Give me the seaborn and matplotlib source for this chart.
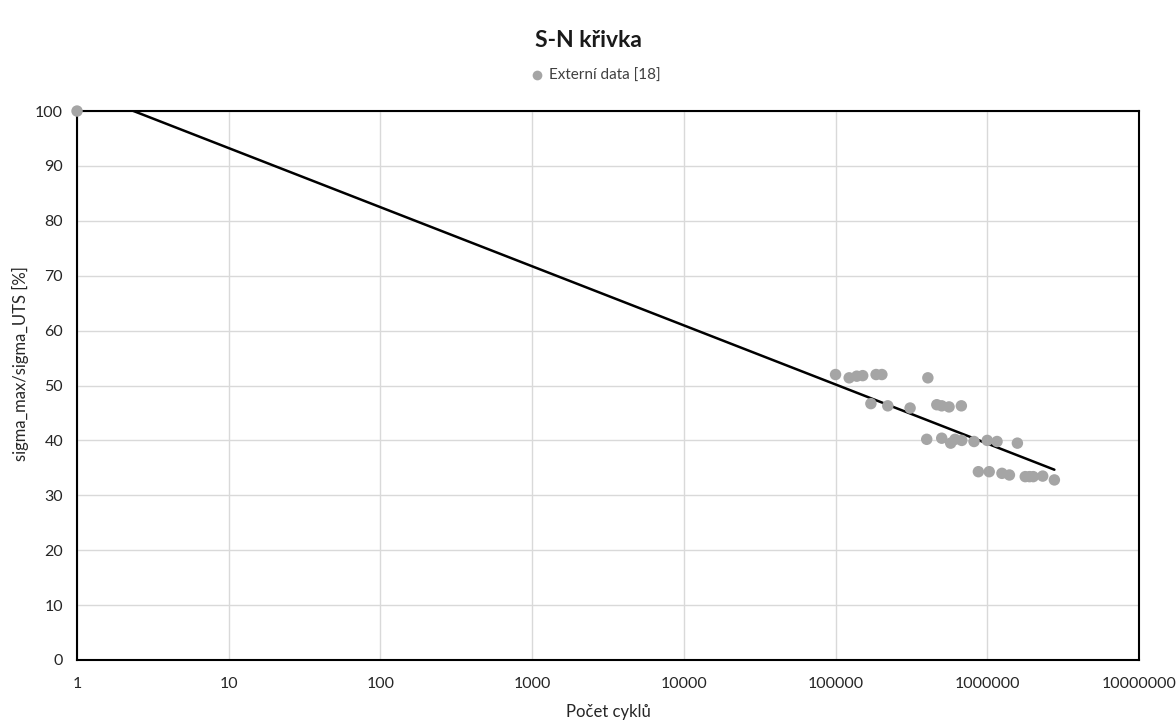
import numpy as np
import pandas as pd
import matplotlib
matplotlib.use("Agg")
import matplotlib.pyplot as plt
import seaborn as sns
from matplotlib.ticker import FixedLocator, FixedFormatter

# Fatigue test results: number of cycles to failure and relative stress [%]
cycles = [1,
          1.00e5, 1.23e5, 1.38e5, 1.51e5, 1.85e5, 2.02e5, 4.06e5,
          1.71e5, 2.21e5, 3.10e5, 4.65e5, 5.01e5, 5.60e5, 6.75e5,
          3.99e5, 5.01e5, 5.74e5, 6.13e5, 6.79e5, 8.18e5, 1.00e6, 1.16e6, 1.58e6,
          8.74e5, 1.03e6, 1.25e6, 1.40e6, 1.78e6, 1.90e6, 2.01e6, 2.32e6, 2.77e6]
stress = [100,
          52.0, 51.4, 51.7, 51.8, 52.0, 52.0, 51.4,
          46.7, 46.3, 45.9, 46.5, 46.3, 46.1, 46.3,
          40.2, 40.4, 39.5, 40.2, 40.0, 39.8, 40.0, 39.8, 39.5,
          34.3, 34.3, 34.0, 33.7, 33.4, 33.4, 33.4, 33.5, 32.8]

series_label = "Externí data [18]"
x_ticks = [1, 10, 100, 1000, 10000, 100000, 1000000, 10000000]
y_ticks = list(range(0, 101, 10))

df = pd.DataFrame({"cycles": cycles, "stress": stress, "series": series_label})

# Logarithmic trend line y = a*ln(x) + b fitted to the data
a, b = np.polyfit(np.log(df["cycles"]), df["stress"], 1)
trend_x = np.logspace(0, np.log10(max(cycles)), 200)
trend = pd.DataFrame({"cycles": trend_x, "stress": a * np.log(trend_x) + b})

sns.set_theme(style="white")
plt.rcParams["font.family"] = ["Lato", "DejaVu Sans"]

fig = plt.figure(figsize=(11.76, 7.22), dpi=100)
ax = fig.add_axes([0.0655, 0.0859, 0.903, 0.7603])

sns.lineplot(data=trend, x="cycles", y="stress", color="black", linewidth=1.8,
             ax=ax, legend=False, zorder=3)
sns.scatterplot(data=df, x="cycles", y="stress", hue="series",
                palette=["#a5a5a5"], s=68, edgecolor="none", ax=ax, zorder=4,
                clip_on=False)

ax.set_xscale("log")
ax.set_xlim(1, 1e7)
ax.set_ylim(0, 100)
ax.xaxis.set_major_locator(FixedLocator(x_ticks))
ax.xaxis.set_major_formatter(FixedFormatter([str(t) for t in x_ticks]))
ax.xaxis.set_minor_locator(FixedLocator([]))
ax.set_yticks(y_ticks)

ax.grid(True, color="#d9d9d9", linewidth=1.0)
ax.set_axisbelow(True)
for sp in ax.spines.values():
    sp.set_visible(True)
    sp.set_color("black")
    sp.set_linewidth(1.5)

ax.tick_params(axis="x", labelsize=11.5, colors="#262626", length=0, pad=12)
ax.tick_params(axis="y", labelsize=11.5, colors="#262626", length=0, pad=10)
ax.set_xlabel("Počet cyklů", fontsize=12, color="#262626")
ax.set_ylabel("sigma_max/sigma_UTS [%]", fontsize=12, color="#262626")
ax.xaxis.set_label_coords(0.5, -0.08)
ax.yaxis.set_label_coords(-0.0455, 0.54)

fig.suptitle("S-N křivka", fontsize=16.5, fontweight="bold", color="#1a1a1a", y=0.958)

handles, labels = ax.get_legend_handles_labels()
ax.legend(handles, labels, loc="lower center", bbox_to_anchor=(0.484, 1.026),
          frameon=False, fontsize=11, handletextpad=-0.2, markerscale=0.85,
          labelcolor="#404040")

fig.savefig("out.png", dpi=100, facecolor="white")
